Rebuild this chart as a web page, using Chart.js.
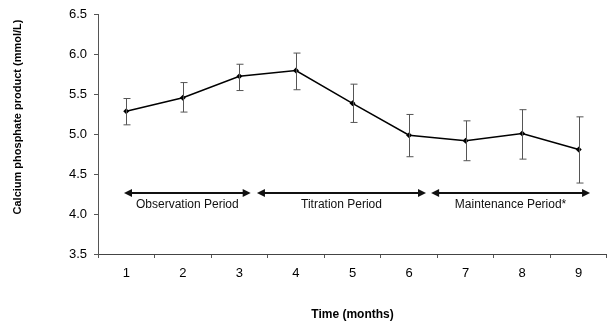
<!DOCTYPE html>
<html>
<head>
<meta charset="utf-8">
<script src="https://cdn.jsdelivr.net/npm/chart.js@4/dist/chart.umd.min.js"></script>
<style>
html,body{margin:0;padding:0;background:#fff;overflow:hidden;}
#wrap{position:relative;width:611px;height:323px;}
</style>
</head>
<body>
<div id="wrap"><canvas id="c"></canvas></div>
<script>
// ---- data ----
const months = ['1','2','3','4','5','6','7','8','9'];
const meanValues = [5.29, 5.46, 5.73, 5.80, 5.39, 4.99, 4.92, 5.01, 4.81];
const errorUpper = [5.45, 5.65, 5.88, 6.02, 5.63, 5.25, 5.17, 5.31, 5.22];
const errorLower = [5.12, 5.28, 5.55, 5.56, 5.15, 4.72, 4.67, 4.69, 4.39];
const yTicks = [3.5, 4.0, 4.5, 5.0, 5.5, 6.0, 6.5];
const periodLabels = ['Observation Period', 'Titration Period', 'Maintenance Period*'];
const periodFrom = [0.96, 3.31, 6.39];   // in months
const periodTo = [3.2, 6.3, 9.2];        // in months
const periodLevel = 4.26;
const periodTextLevel = 4.12;
const yTitle = 'Calcium phosphate product (mmol/L)';
const xTitle = 'Time (months)';

const FONT = "'Liberation Sans', Arial, sans-serif";

const extras = {
  id: 'extras',
  afterDatasetsDraw(chart) {
    const ctx = chart.ctx;
    const x = chart.scales.x, y = chart.scales.y;
    ctx.save();
    // error bars
    ctx.strokeStyle = '#555';
    ctx.lineWidth = 1;
    for (let i = 0; i < meanValues.length; i++) {
      const px = Math.round(x.getPixelForValue(i)) + 0.5;
      const yt = y.getPixelForValue(errorUpper[i]);
      const yb = y.getPixelForValue(errorLower[i]);
      ctx.beginPath();
      ctx.moveTo(px, yt); ctx.lineTo(px, yb);
      ctx.moveTo(px - 3, yt); ctx.lineTo(px + 4, yt);
      ctx.moveTo(px - 3, yb); ctx.lineTo(px + 4, yb);
      ctx.stroke();
    }
    // period arrows
    const ay = Math.round(y.getPixelForValue(periodLevel));
    const ty = y.getPixelForValue(periodTextLevel);
    ctx.fillStyle = '#111';
    ctx.strokeStyle = '#111';
    ctx.lineWidth = 2;
    ctx.font = '12px ' + FONT;
    ctx.textAlign = 'center';
    ctx.textBaseline = 'middle';
    for (let i = 0; i < periodLabels.length; i++) {
      const x0 = x.getPixelForValue(periodFrom[i] - 1);
      const x1 = x.getPixelForValue(periodTo[i] - 1);
      ctx.beginPath();
      ctx.moveTo(x0 + 6, ay); ctx.lineTo(x1 - 6, ay);
      ctx.stroke();
      ctx.beginPath();
      ctx.moveTo(x0, ay); ctx.lineTo(x0 + 8, ay - 4); ctx.lineTo(x0 + 8, ay + 4); ctx.closePath();
      ctx.fill();
      ctx.beginPath();
      ctx.moveTo(x1, ay); ctx.lineTo(x1 - 8, ay - 4); ctx.lineTo(x1 - 8, ay + 4); ctx.closePath();
      ctx.fill();
      ctx.fillText(periodLabels[i], (x0 + x1) / 2, ty);
    }
    // y title
    ctx.fillStyle = '#000';
    ctx.font = 'bold 11px ' + FONT;
    ctx.translate(18, 117);
    ctx.rotate(-Math.PI / 2);
    ctx.fillText(yTitle, 0, 0);
    ctx.restore();
  }
};

new Chart(document.getElementById('c'), {
  type: 'line',
  data: {
    labels: months,
    datasets: [{
      data: meanValues,
      borderColor: '#000',
      borderWidth: 1.5,
      backgroundColor: '#000',
      pointStyle: 'rectRot',
      pointRadius: 3,
      pointBorderWidth: 0,
      tension: 0,
      fill: false
    }]
  },
  options: {
    responsive: true,
    maintainAspectRatio: false,
    animation: false,
    events: [],
    layout: { padding: { top: 12, right: 0, left: 0, bottom: 0 } },
    plugins: { legend: { display: false }, tooltip: { enabled: false } },
    scales: {
      x: {
        type: 'category',
        offset: true,
        grid: { display: true, offset: true, drawOnChartArea: false, drawTicks: true, tickLength: 4, color: '#555', tickColor: '#555' },
        border: { display: true, color: '#444', width: 1 },
        ticks: { color: '#000', font: { family: FONT, size: 13 }, padding: 8, maxRotation: 0 },
        title: { display: true, text: xTitle, color: '#000', font: { family: FONT, size: 12, weight: 'bold' }, padding: { top: 0, bottom: 1 } },
        afterFit(s) { s.height = 69; }
      },
      y: {
        min: 3.5,
        max: 6.5,
        afterBuildTicks(s) { s.ticks = yTicks.map(v => ({ value: v })); },
        grid: { display: true, drawOnChartArea: false, drawTicks: true, tickLength: 4, color: '#555', tickColor: '#555' },
        border: { display: true, color: '#555', width: 1 },
        ticks: { color: '#000', font: { family: FONT, size: 13 }, padding: 7, callback: v => v.toFixed(1) },
        title: { display: false },
        afterFit(s) { s.width = 98; }
      }
    }
  },
  plugins: [extras]
});
</script>
</body>
</html>
